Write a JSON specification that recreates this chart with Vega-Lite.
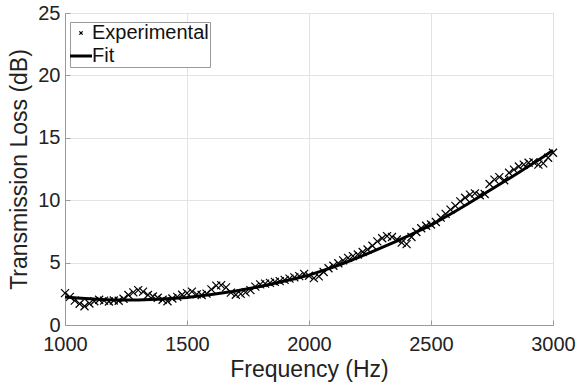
{
  "$schema": "https://vega.github.io/schema/vega-lite/v6.json",
  "width": 488,
  "height": 312,
  "autosize": {"type": "none"},
  "padding": {"left": 65, "top": 13, "right": 25, "bottom": 63},
  "background": "white",
  "config": {
    "font": "Liberation Sans",
    "view": {"stroke": "#9a9a9a", "strokeWidth": 1},
    "axis": {
      "domainColor": "#9a9a9a",
      "gridColor": "#e3e3e3",
      "gridWidth": 1,
      "tickColor": "#9a9a9a",
      "tickSize": -5,
      "labelColor": "#222222",
      "labelFontSize": 20,
      "titleColor": "#222222",
      "titleFontSize": 23,
      "titleFontWeight": "normal"
    }
  },
  "datasets": {
    "exp": [
      {"freq": 1000, "tl": 2.55}, {"freq": 1020, "tl": 2.25}, {"freq": 1040, "tl": 1.95}, {"freq": 1060, "tl": 1.70},
      {"freq": 1080, "tl": 1.50}, {"freq": 1100, "tl": 1.72}, {"freq": 1120, "tl": 1.90}, {"freq": 1140, "tl": 2.02},
      {"freq": 1160, "tl": 1.95}, {"freq": 1180, "tl": 1.88}, {"freq": 1200, "tl": 1.96}, {"freq": 1220, "tl": 1.94},
      {"freq": 1240, "tl": 2.10}, {"freq": 1260, "tl": 2.40}, {"freq": 1280, "tl": 2.62}, {"freq": 1300, "tl": 2.80},
      {"freq": 1320, "tl": 2.68}, {"freq": 1340, "tl": 2.40}, {"freq": 1360, "tl": 2.28}, {"freq": 1380, "tl": 2.18},
      {"freq": 1400, "tl": 2.02}, {"freq": 1420, "tl": 1.90}, {"freq": 1440, "tl": 2.12}, {"freq": 1460, "tl": 2.25},
      {"freq": 1480, "tl": 2.42}, {"freq": 1500, "tl": 2.55}, {"freq": 1520, "tl": 2.68}, {"freq": 1540, "tl": 2.45},
      {"freq": 1560, "tl": 2.40}, {"freq": 1580, "tl": 2.52}, {"freq": 1600, "tl": 2.85}, {"freq": 1620, "tl": 3.15},
      {"freq": 1640, "tl": 3.20}, {"freq": 1660, "tl": 3.02}, {"freq": 1680, "tl": 2.60}, {"freq": 1700, "tl": 2.42},
      {"freq": 1720, "tl": 2.50}, {"freq": 1740, "tl": 2.62}, {"freq": 1760, "tl": 2.80}, {"freq": 1780, "tl": 3.08},
      {"freq": 1800, "tl": 3.25}, {"freq": 1820, "tl": 3.32}, {"freq": 1840, "tl": 3.38}, {"freq": 1860, "tl": 3.45},
      {"freq": 1880, "tl": 3.52}, {"freq": 1900, "tl": 3.62}, {"freq": 1920, "tl": 3.72}, {"freq": 1940, "tl": 3.82},
      {"freq": 1960, "tl": 3.92}, {"freq": 1980, "tl": 4.10}, {"freq": 2000, "tl": 3.95}, {"freq": 2020, "tl": 3.75},
      {"freq": 2040, "tl": 3.90}, {"freq": 2060, "tl": 4.25}, {"freq": 2080, "tl": 4.55}, {"freq": 2100, "tl": 4.75},
      {"freq": 2120, "tl": 4.95}, {"freq": 2140, "tl": 5.18}, {"freq": 2160, "tl": 5.38}, {"freq": 2180, "tl": 5.52},
      {"freq": 2200, "tl": 5.65}, {"freq": 2220, "tl": 5.85}, {"freq": 2240, "tl": 6.05}, {"freq": 2260, "tl": 6.35},
      {"freq": 2280, "tl": 6.70}, {"freq": 2300, "tl": 6.95}, {"freq": 2320, "tl": 7.12}, {"freq": 2340, "tl": 7.05},
      {"freq": 2360, "tl": 6.85}, {"freq": 2380, "tl": 6.60}, {"freq": 2400, "tl": 6.48}, {"freq": 2420, "tl": 7.05},
      {"freq": 2440, "tl": 7.45}, {"freq": 2460, "tl": 7.75}, {"freq": 2480, "tl": 7.95}, {"freq": 2500, "tl": 8.05},
      {"freq": 2520, "tl": 8.25}, {"freq": 2540, "tl": 8.60}, {"freq": 2560, "tl": 8.90}, {"freq": 2580, "tl": 9.25},
      {"freq": 2600, "tl": 9.55}, {"freq": 2620, "tl": 9.90}, {"freq": 2640, "tl": 10.20}, {"freq": 2660, "tl": 10.45},
      {"freq": 2680, "tl": 10.55}, {"freq": 2700, "tl": 10.40}, {"freq": 2720, "tl": 10.50}, {"freq": 2740, "tl": 11.30},
      {"freq": 2760, "tl": 11.65}, {"freq": 2780, "tl": 11.85}, {"freq": 2800, "tl": 11.60}, {"freq": 2820, "tl": 12.20},
      {"freq": 2840, "tl": 12.45}, {"freq": 2860, "tl": 12.70}, {"freq": 2880, "tl": 12.85}, {"freq": 2900, "tl": 13.00},
      {"freq": 2920, "tl": 13.05}, {"freq": 2940, "tl": 12.85}, {"freq": 2960, "tl": 12.95}, {"freq": 2980, "tl": 13.40},
      {"freq": 3000, "tl": 13.80}
    ],
    "fit": [
      {"freq": 1000, "tl": 2.25}, {"freq": 1050, "tl": 2.17}, {"freq": 1100, "tl": 2.10}, {"freq": 1150, "tl": 2.05},
      {"freq": 1200, "tl": 2.01}, {"freq": 1250, "tl": 2.00}, {"freq": 1300, "tl": 2.01}, {"freq": 1350, "tl": 2.04},
      {"freq": 1400, "tl": 2.08}, {"freq": 1450, "tl": 2.14}, {"freq": 1500, "tl": 2.21}, {"freq": 1550, "tl": 2.32},
      {"freq": 1600, "tl": 2.44}, {"freq": 1650, "tl": 2.58}, {"freq": 1700, "tl": 2.73}, {"freq": 1750, "tl": 2.90},
      {"freq": 1800, "tl": 3.09}, {"freq": 1850, "tl": 3.30}, {"freq": 1900, "tl": 3.52}, {"freq": 1950, "tl": 3.75},
      {"freq": 2000, "tl": 4.00}, {"freq": 2050, "tl": 4.32}, {"freq": 2100, "tl": 4.65}, {"freq": 2150, "tl": 5.01},
      {"freq": 2200, "tl": 5.39}, {"freq": 2250, "tl": 5.80}, {"freq": 2300, "tl": 6.22}, {"freq": 2350, "tl": 6.65},
      {"freq": 2400, "tl": 7.09}, {"freq": 2450, "tl": 7.54}, {"freq": 2500, "tl": 8.00}, {"freq": 2550, "tl": 8.55},
      {"freq": 2600, "tl": 9.12}, {"freq": 2650, "tl": 9.70}, {"freq": 2700, "tl": 10.29}, {"freq": 2750, "tl": 10.90},
      {"freq": 2800, "tl": 11.50}, {"freq": 2850, "tl": 12.10}, {"freq": 2900, "tl": 12.72}, {"freq": 2950, "tl": 13.35},
      {"freq": 3000, "tl": 14.00}
    ]
  },
  "encoding": {
    "x": {
      "field": "freq", "type": "quantitative",
      "scale": {"domain": [1000, 3000], "nice": false, "zero": false},
      "axis": {"values": [1000, 1500, 2000, 2500, 3000], "title": "Frequency (Hz)", "labelPadding": 14, "titlePadding": 4, "labelFlush": false, "format": "d"}
    },
    "y": {
      "field": "tl", "type": "quantitative",
      "scale": {"domain": [0, 25], "nice": false},
      "axis": {"values": [0, 5, 10, 15, 20, 25], "title": "Transmission Loss (dB)", "labelPadding": 10, "titlePadding": 6, "labelFlush": false}
    },
    "color": {
      "datum": "Experimental",
      "type": "nominal",
      "scale": {"domain": ["Experimental", "Fit"], "range": ["black", "black"]},
      "legend": {
        "title": null,
        "orient": "none",
        "legendX": 5,
        "legendY": 9,
        "direction": "vertical",
        "fillColor": "white",
        "strokeColor": "#9a9a9a",
        "padding": 1,
        "rowPadding": 3,
        "labelFontSize": 20,
        "labelColor": "#111111",
        "labelOffset": 1,
        "symbolSize": 484,
        "encode": {
          "symbols": {
            "update": {
              "shape": {"signal": "datum.value === 'Fit' ? 'stroke' : 'M-0.15,-0.15L0.15,0.15M-0.15,0.15L0.15,-0.15'"},
              "size": {"value": 484},
              "strokeWidth": {"signal": "datum.value === 'Fit' ? 3 : 1.3"},
              "stroke": {"value": "black"},
              "fill": {"value": "transparent"},
              "opacity": {"value": 1}
            }
          }
        }
      }
    }
  },
  "layer": [
    {
      "data": {"name": "exp"},
      "mark": {"type": "point", "shape": "M-1,-1L1,1M-1,1L1,-1", "size": 64, "filled": false, "strokeWidth": 1.2, "opacity": 1},
      "encoding": {"color": {"datum": "Experimental", "type": "nominal"}}
    },
    {
      "data": {"name": "fit"},
      "mark": {"type": "line", "strokeWidth": 3},
      "encoding": {"color": {"datum": "Fit", "type": "nominal"}}
    }
  ]
}
